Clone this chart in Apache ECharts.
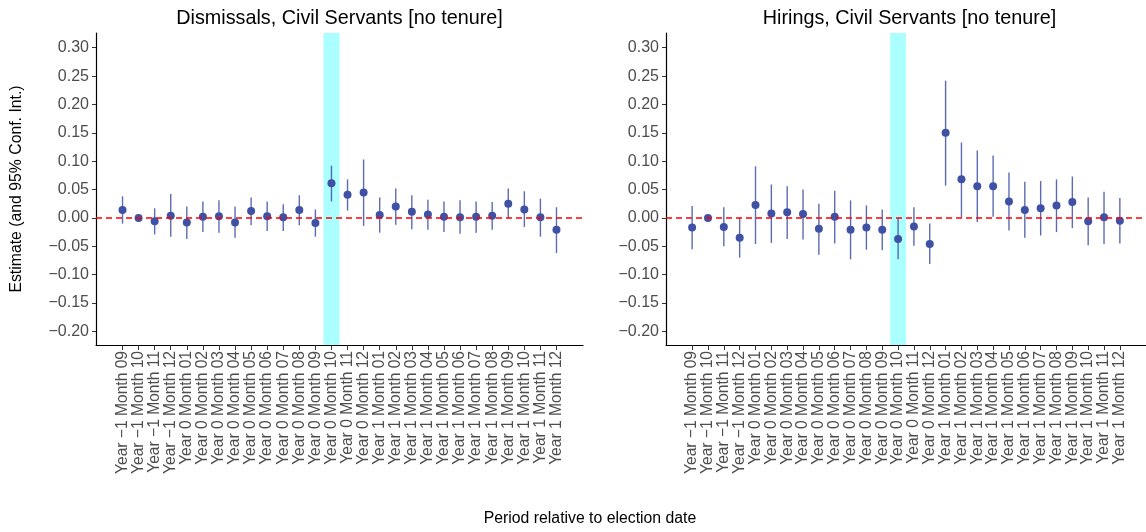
<!DOCTYPE html>
<html>
<head>
<meta charset="utf-8">
<script src="https://cdn.jsdelivr.net/npm/echarts@6/dist/echarts.min.js"></script>
<style>
  html, body { margin: 0; padding: 0; background: #ffffff; }
  #chart { width: 1146px; height: 532px; }
</style>
</head>
<body>
<div id="chart"></div>
<script>
// Periods relative to the election month
const periods = [
  'Year \u22121 Month 09', 'Year \u22121 Month 10', 'Year \u22121 Month 11', 'Year \u22121 Month 12',
  'Year 0 Month 01', 'Year 0 Month 02', 'Year 0 Month 03', 'Year 0 Month 04',
  'Year 0 Month 05', 'Year 0 Month 06', 'Year 0 Month 07', 'Year 0 Month 08',
  'Year 0 Month 09', 'Year 0 Month 10', 'Year 0 Month 11', 'Year 0 Month 12',
  'Year 1 Month 01', 'Year 1 Month 02', 'Year 1 Month 03', 'Year 1 Month 04',
  'Year 1 Month 05', 'Year 1 Month 06', 'Year 1 Month 07', 'Year 1 Month 08',
  'Year 1 Month 09', 'Year 1 Month 10', 'Year 1 Month 11', 'Year 1 Month 12'
];
const electionPeriod = 'Year 0 Month 10';

// Dismissals: point estimate and 95% interval
const dismissEst = [0.014, 0.000, -0.006, 0.004, -0.008, 0.002, 0.003, -0.008, 0.012, 0.003, 0.001, 0.014, -0.009, 0.061,
                    0.041, 0.045, 0.005, 0.020, 0.011, 0.006, 0.002, 0.001, 0.002, 0.004, 0.025, 0.015, 0.001, -0.021];
const dismissLo  = [-0.010, -0.003, -0.029, -0.033, -0.037, -0.025, -0.026, -0.035, -0.013, -0.023, -0.023, -0.013, -0.033, 0.029,
                    0.013, -0.014, -0.026, -0.012, -0.020, -0.021, -0.025, -0.028, -0.026, -0.021, 0.000, -0.016, -0.033, -0.062];
const dismissHi  = [0.038, 0.003, 0.017, 0.042, 0.020, 0.029, 0.031, 0.020, 0.036, 0.029, 0.024, 0.040, 0.015, 0.092,
                    0.068, 0.103, 0.036, 0.052, 0.040, 0.032, 0.029, 0.031, 0.029, 0.028, 0.052, 0.047, 0.034, 0.019];

// Hirings: point estimate and 95% interval
const hireEst = [-0.017, 0.000, -0.016, -0.035, 0.023, 0.008, 0.010, 0.007, -0.019, 0.002, -0.021, -0.017, -0.021, -0.037,
                 -0.015, -0.046, 0.150, 0.068, 0.056, 0.056, 0.029, 0.014, 0.017, 0.022, 0.028, -0.006, 0.001, -0.005];
const hireLo  = [-0.055, -0.003, -0.050, -0.070, -0.046, -0.044, -0.037, -0.038, -0.065, -0.045, -0.073, -0.056, -0.057, -0.073,
                 -0.049, -0.081, 0.057, 0.001, -0.007, 0.002, -0.022, -0.035, -0.031, -0.025, -0.018, -0.048, -0.046, -0.045];
const hireHi  = [0.021, 0.003, 0.019, 0.000, 0.091, 0.059, 0.056, 0.050, 0.025, 0.048, 0.031, 0.022, 0.015, 0.000,
                 0.019, -0.010, 0.242, 0.133, 0.119, 0.110, 0.080, 0.064, 0.065, 0.068, 0.073, 0.036, 0.046, 0.035];

const yTicks = [-0.20, -0.15, -0.10, -0.05, 0.00, 0.05, 0.10, 0.15, 0.20, 0.25, 0.30];
const panelTitles = ['Dismissals, Civil Servants [no tenure]', 'Hirings, Civil Servants [no tenure]'];

const FONT = '"Liberation Sans", Arial, Helvetica, sans-serif';
const POINT_COLOR = '#3f51a5';
const GREY_TEXT = '#4d4d4d';
const xIdx = periods.map((_, i) => i);
const electionIdx = periods.indexOf(electionPeriod);

function fmtY(v) {
  const s = Math.abs(v).toFixed(2);
  return v < -1e-9 ? '\u2212' + s : s;
}

function xAxisCfg(gridIndex) {
  return {
    type: 'value', gridIndex: gridIndex, min: -1.65, max: 28.65,
    splitLine: { show: false },
    axisLine: { show: true, onZero: false, lineStyle: { color: '#000000', width: 1.2 } },
    axisTick: { show: true, customValues: xIdx, length: 5, lineStyle: { color: '#333333', width: 1 } },
    axisLabel: {
      show: true, customValues: xIdx, rotate: 90, margin: 6,
      color: GREY_TEXT, fontSize: 15.6, fontFamily: FONT,
      formatter: v => periods[Math.round(v)]
    }
  };
}

function yAxisCfg(gridIndex) {
  return {
    type: 'value', gridIndex: gridIndex, min: -0.224, max: 0.326,
    splitLine: { show: false },
    axisLine: { show: true, onZero: false, lineStyle: { color: '#000000', width: 1.2 } },
    axisTick: { show: true, customValues: yTicks, length: 4, lineStyle: { color: '#333333', width: 1 } },
    axisLabel: {
      show: true, customValues: yTicks, margin: 7,
      color: GREY_TEXT, fontSize: 16, fontFamily: FONT,
      formatter: v => fmtY(v)
    }
  };
}

function panelSeries(panel, est, lo, hi) {
  const ciData = xIdx.map(i => [i, lo[i], hi[i]]);
  const ptData = xIdx.map(i => [i, est[i]]);
  return [
    {
      // confidence interval whiskers
      type: 'custom', xAxisIndex: panel, yAxisIndex: panel, z: 2,
      data: ciData,
      encode: { x: 0, y: [1, 2] },
      renderItem: function (params, api) {
        const a = api.coord([api.value(0), api.value(1)]);
        const b = api.coord([api.value(0), api.value(2)]);
        return {
          type: 'line',
          shape: { x1: a[0], y1: a[1], x2: b[0], y2: b[1] },
          style: { stroke: POINT_COLOR, lineWidth: 1.4, opacity: 0.85 }
        };
      }
    },
    {
      // point estimates and the zero reference line
      type: 'scatter', xAxisIndex: panel, yAxisIndex: panel, z: 3,
      data: ptData, symbol: 'circle', symbolSize: 8,
      itemStyle: { color: POINT_COLOR, opacity: 1 },
      markLine: {
        silent: true, symbol: ['none', 'none'], label: { show: false },
        lineStyle: { color: '#ff0000', type: [6, 4], width: 1.5 },
        data: [{ yAxis: 0 }]
      }
    },
    {
      // election month highlight band
      type: 'line', xAxisIndex: panel, yAxisIndex: panel, z: 5,
      data: [], silent: true,
      markArea: {
        silent: true,
        itemStyle: { color: 'rgba(0,255,255,0.33)' },
        data: [[{ xAxis: electionIdx - 0.5 }, { xAxis: electionIdx + 0.5 }]]
      }
    }
  ];
}

const chart = echarts.init(document.getElementById('chart'), null, { renderer: 'canvas' });
chart.setOption({
  animation: false,
  backgroundColor: '#ffffff',
  grid: [
    { left: 96, top: 33, width: 487, height: 312 },
    { left: 666, top: 33, width: 487, height: 312 }
  ],
  xAxis: [xAxisCfg(0), xAxisCfg(1)],
  yAxis: [yAxisCfg(0), yAxisCfg(1)],
  series: [].concat(
    panelSeries(0, dismissEst, dismissLo, dismissHi),
    panelSeries(1, hireEst, hireLo, hireHi)
  ),
  graphic: [
    { type: 'text', x: 339.5, y: 19, style: { text: panelTitles[0], fontSize: 19.8, fontFamily: FONT, fill: '#000000', align: 'center', verticalAlign: 'middle' } },
    { type: 'text', x: 909.5, y: 19, style: { text: panelTitles[1], fontSize: 19.8, fontFamily: FONT, fill: '#000000', align: 'center', verticalAlign: 'middle' } },
    { type: 'text', x: 590, y: 519, style: { text: 'Period relative to election date', fontSize: 15.8, fontFamily: FONT, fill: '#000000', align: 'center', verticalAlign: 'middle' } },
    { type: 'text', x: 17, y: 189, rotation: Math.PI / 2, style: { text: 'Estimate (and 95% Conf. Int.)', fontSize: 15.8, fontFamily: FONT, fill: '#000000', align: 'center', verticalAlign: 'middle' } }
  ]
});
</script>
</body>
</html>
